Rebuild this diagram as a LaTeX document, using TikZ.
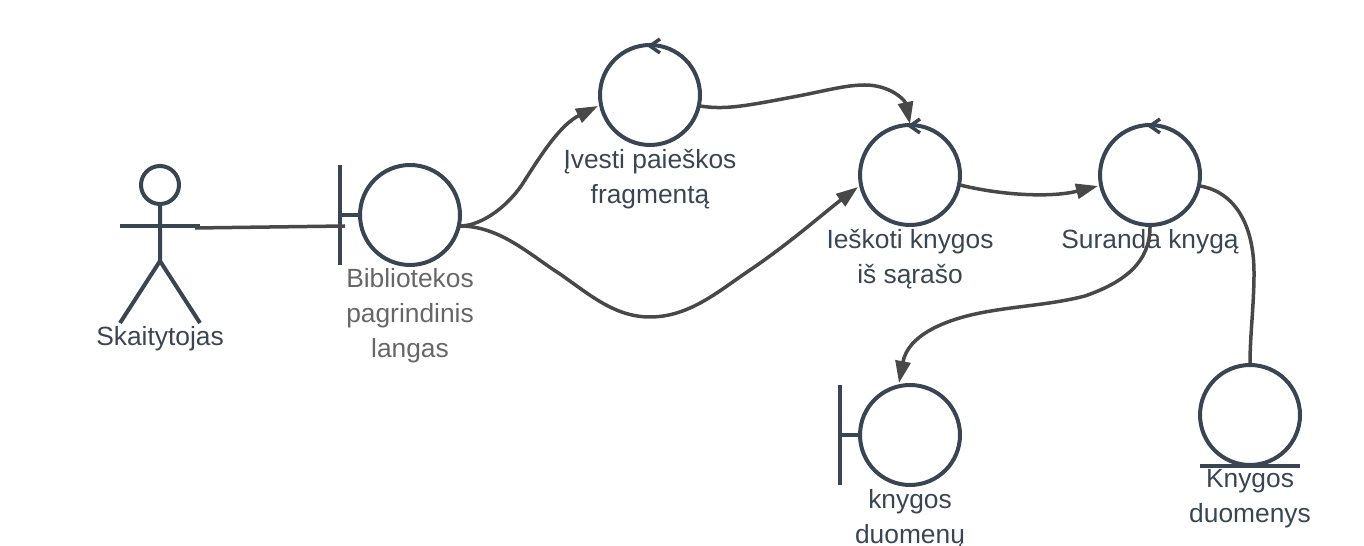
\documentclass[tikz,border=0pt]{standalone}
\usepackage{fontspec}
\setmainfont{Liberation Sans}
\usepackage{tikz}
\usetikzlibrary{arrows.meta,positioning,calc}
\definecolor{umlink}{HTML}{3A4553}
\definecolor{linkgray}{HTML}{484848}
\definecolor{softtext}{HTML}{666666}
\tikzset{
  obj/.style={circle, draw=umlink, line width=0.08cm, fill=white, inner sep=0pt, minimum size=2cm},
  head/.style={circle, draw=umlink, line width=0.08cm, fill=white, inner sep=0pt, minimum size=0.76cm},
  umlline/.style={draw=umlink, line width=0.08cm},
  lbl/.style={align=center, text=umlink, inner sep=0pt, font=\fontsize{15}{19.9}\selectfont},
  arr/.style={-{Triangle[length=0.44cm, width=0.3cm]}, line width=0.07cm, draw=linkgray},
  lnk/.style={line width=0.07cm, draw=linkgray},
  px/.style={x=0.02cm, y=-0.02cm},
}
\begin{document}
\begin{tikzpicture}[px]
        \useasboundingbox (0,0) rectangle (1364,546);
        % actor
        \node[head] (galva) at (160,185) {};
        \coordinate (rankaL) at (120,226);
        \coordinate (rankaR) at (200,226);
        \coordinate (klubai) at (160,261);
        \coordinate (kojaL) at (120,323);
        \coordinate (kojaR) at (200,323);
        \draw[umlline] (galva) -- (klubai) -- (kojaL);
        \draw[umlline] (klubai) -- (kojaR);
        \draw[umlline] (rankaL) -- (rankaR);
        % objects
        \node[obj] (langas) at (410,215) {};
        \node[obj] (ivesti) at (650,95) {};
        \node[obj] (ieskoti) at (910,175) {};
        \node[obj] (suranda) at (1150,175) {};
        \node[obj] (duomenu) at (910,435) {};
        \node[obj] (duomenys) at (1250,415) {};
        % boundary bars
        \foreach \obj in {langas,duomenu} {
          \draw[umlline] ([shift={(-70,-50)}]\obj.center) -- ([shift={(-70,50)}]\obj.center);
          \draw[umlline] ([shift={(-70,0)}]\obj.center) -- (\obj.west);
        }
        % entity bar
        \draw[umlline] ([shift={(-50,51)}]duomenys.center) -- ([shift={(50,51)}]duomenys.center);
        % control marks
        \foreach \obj in {ivesti,ieskoti,suranda} {
          \draw[umlline, line width=0.07cm] ([shift={(10,-56)}]\obj.center) -- ([shift={(0,-49)}]\obj.center) -- ([shift={(10,-42)}]\obj.center);
        }
        % labels
        \node[lbl] (skaitytojas) at (160,339) {Skaitytojas};
        \node[lbl, text=softtext] (langasT) at (410,316) {Bibliotekos\\pagrindinis\\langas};
        \node[lbl] (ivestiT) at (650,179) {Įvesti paieškos\\fragmentą};
        \node[lbl] (ieskotiT) at (910,259) {Ieškoti knygos\\iš sąrašo};
        \node[lbl] (surandaT) at (1150,242) {Suranda knygą};
        \node[lbl] (duomenuT) at (910,519) {knygos\\duomenų};
        \node[lbl] (duomenysT) at (1250,499) {Knygos\\duomenys};
        % connectors
        \coordinate (barL) at (345,226);
        \coordinate (armEnd) at (195,228);
        \coordinate (langasOut) at (460,226);
        \coordinate (ivestiOut) at (700,106);
        \coordinate (ivestiIn) at (598,106);
        \coordinate (ieskotiIn) at (858,187);
        \coordinate (ieskotiOut) at (960,185);
        \coordinate (surandaIn) at (1098,186);
        \coordinate (surandaOut) at (1200,186);
        \draw[lnk] (armEnd) -- (barL);
        \draw[arr] (langasOut) .. controls (482,226) and (510,205) .. (525,180)
                   .. controls (541,155) and (560,125) .. (ivestiIn);
        \draw[arr] (langasOut) .. controls (500,226) and (530,255) .. (560,274)
                   .. controls (590,295) and (615,317) .. (650,317)
                   .. controls (690,317) and (720,290) .. (750,270)
                   .. controls (790,243) and (825,212) .. (ieskotiIn);
        \draw[arr] (ivestiOut) .. controls (725,110) and (745,106) .. (793,97)
                   .. controls (825,91) and (845,85) .. (865,85)
                   .. controls (890,85) and (905,100) .. (910,124);
        \draw[arr] (ieskotiOut) .. controls (1000,195) and (1050,198) .. (surandaIn);
        \draw[arr] (suranda.south) .. controls (1150,262) and (1125,282) .. (1085,296)
                   .. controls (1050,305) and (1015,306) .. (980,313)
                   .. controls (945,320) and (908,335) .. (899,383);
        \draw[lnk] (surandaOut) .. controls (1235,192) and (1254,225) .. (1254,273)
                   .. controls (1254,305) and (1250,335) .. (duomenys.north);
\end{tikzpicture}
\end{document}
